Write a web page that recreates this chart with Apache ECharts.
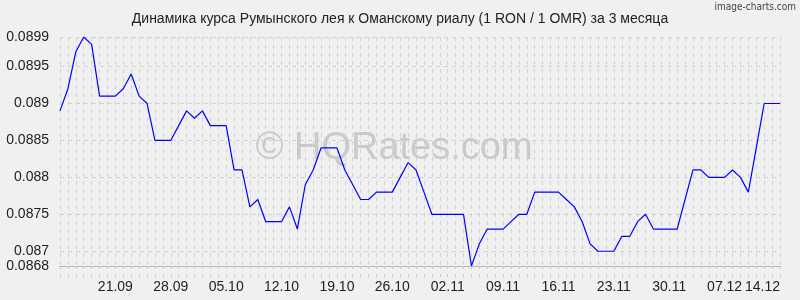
<!DOCTYPE html>
<html><head><meta charset="utf-8">
<script src="https://cdn.jsdelivr.net/npm/echarts@6/dist/echarts.min.js"></script>
<style>html,body{margin:0;padding:0;background:#f0f0f0}#c{width:800px;height:300px}</style>
</head><body><div id="c"></div>
<script>
const dates = [
'14.09','15.09','16.09','17.09','18.09','19.09','20.09','21.09','22.09','23.09','24.09','25.09','26.09','27.09','28.09','29.09','30.09',
'01.10','02.10','03.10','04.10','05.10','06.10','07.10','08.10','09.10','10.10','11.10','12.10','13.10','14.10','15.10','16.10','17.10','18.10','19.10','20.10','21.10','22.10','23.10','24.10','25.10','26.10','27.10','28.10','29.10','30.10','31.10',
'01.11','02.11','03.11','04.11','05.11','06.11','07.11','08.11','09.11','10.11','11.11','12.11','13.11','14.11','15.11','16.11','17.11','18.11','19.11','20.11','21.11','22.11','23.11','24.11','25.11','26.11','27.11','28.11','29.11','30.11',
'01.12','02.12','03.12','04.12','05.12','06.12','07.12','08.12','09.12','10.12','11.12','12.12','13.12','14.12'
];
const rates = [
0.0889,0.0892,0.0897,0.0899,0.0898,0.0891,0.0891,0.0891,0.0892,0.0894,
0.0891,0.0890,0.0885,0.0885,0.0885,0.0887,0.0889,0.0888,0.0889,0.0887,
0.0887,0.0887,0.0881,0.0881,0.0876,0.0877,0.0874,0.0874,0.0874,0.0876,
0.0873,0.0879,0.0881,0.0884,0.0884,0.0884,0.0881,0.0879,0.0877,0.0877,
0.0878,0.0878,0.0878,0.0880,0.0882,0.0881,0.0878,0.0875,0.0875,0.0875,
0.0875,0.0875,0.0868,0.0871,0.0873,0.0873,0.0873,0.0874,0.0875,0.0875,
0.0878,0.0878,0.0878,0.0878,0.0877,0.0876,0.0874,0.0871,0.0870,0.0870,
0.0870,0.0872,0.0872,0.0874,0.0875,0.0873,0.0873,0.0873,0.0873,0.0877,
0.0881,0.0881,0.0880,0.0880,0.0880,0.0881,0.0880,0.0878,0.0884,0.0890,
0.0890,0.0890
];
const yTicks = [0.0868,0.087,0.0875,0.088,0.0885,0.089,0.0895,0.0899];
const xLabels = ['21.09','28.09','05.10','12.10','19.10','26.10','02.11','09.11','16.11','23.11','30.11','07.12','14.12'];
const titleText = 'Динамика курса Румынского лея к Оманскому риалу (1 RON / 1 OMR) за 3 месяца';

const FONT = '"Liberation Sans", Arial, sans-serif';
const chart = echarts.init(document.getElementById('c'), null, {renderer:'canvas'});
chart.setOption({
  animation:false,
  backgroundColor:'#f0f0f0',
  textStyle:{fontFamily:FONT},
  title:{text:titleText,left:'center',top:7,textStyle:{fontSize:14,fontWeight:'normal',color:'#222',fontFamily:FONT}},
  graphic:[
    {type:'text',z:1,style:{text:'© HQRates.com',x:394,y:149,textAlign:'center',textVerticalAlign:'middle',font:'38px '+FONT,fill:'#cacaca'}},
    {type:'text',z:1,style:{text:'image-charts.com',x:796,y:2,textAlign:'right',textVerticalAlign:'top',font:'10px "DejaVu Sans Condensed", "DejaVu Sans", sans-serif',fill:'#444'}}
  ],
  grid:{left:60,right:20,top:37,bottom:34,containLabel:false},
  xAxis:{
    type:'category',data:dates,boundaryGap:false,
    axisLine:{show:true,onZero:false,lineStyle:{color:'#b4b4b4',width:1}},
    axisTick:{show:true,interval:0,length:11,lineStyle:{color:'#c8c8c8',type:[3,5],dashOffset:0}},
    splitLine:{show:true,interval:0,lineStyle:{color:'#d2d2d2',type:[4,4]}},
    axisLabel:{interval:(i,v)=>xLabels.indexOf(v)>=0,color:'#222',fontSize:14,margin:14,fontFamily:FONT,alignMaxLabel:'right'}
  },
  yAxis:{
    type:'value',min:0.0868,max:0.0899,
    axisLine:{show:false},
    axisTick:{show:false,customValues:yTicks},
    splitLine:{show:true,lineStyle:{color:'#d2d2d2',type:[4,4]}},
    axisLabel:{customValues:yTicks,formatter:v=>String(v),color:'#222',fontSize:14,margin:11,fontFamily:FONT}
  },
  series:[{type:'line',data:rates,symbol:'none',z:3,lineStyle:{color:'#0000ff',width:1.2}}]
});
</script>
</body></html>
